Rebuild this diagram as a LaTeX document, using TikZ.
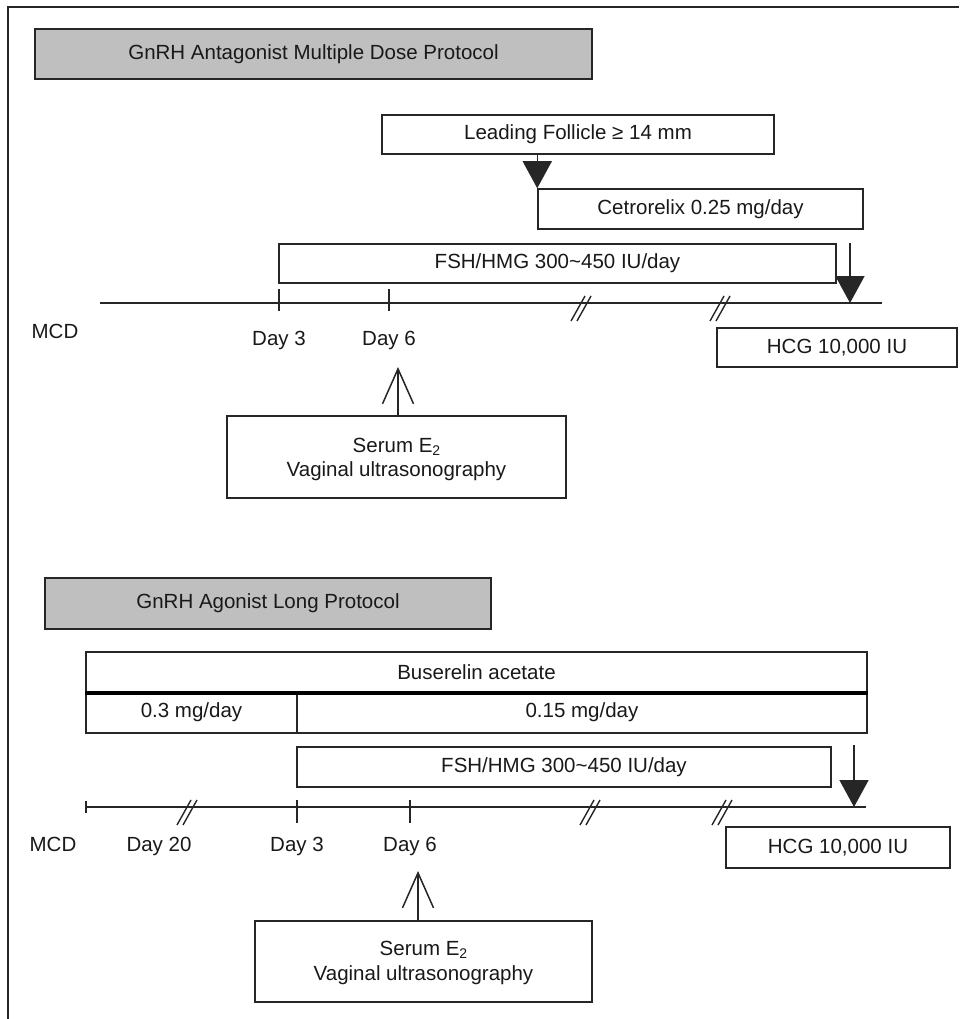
\documentclass[tikz,border=0pt]{standalone}
\usepackage{fontspec}
\setmainfont{Liberation Sans}
\usetikzlibrary{arrows.meta}
\newcommand{\subtwo}{\raisebox{-0.32ex}{\fontsize{14}{14}\selectfont 2}}
\begin{document}
\begin{tikzpicture}[x=1pt,y=-1pt,
  every node/.style={font=\fontsize{20.5}{24}\selectfont, text=black!90},
  box/.style={draw=black!85, line width=1.5pt, rectangle, inner sep=0pt, align=center},
  hdr/.style={box, fill=gray!50},
  lbl/.style={inner sep=0pt, text height=15pt, text depth=4pt},
  axis/.style={line width=1.8pt, draw=black!85},
  tickmark/.style={line width=1.5pt, draw=black!85},
  brkline/.style={line width=1.4pt, draw=black!85},
  tri/.style={line width=1.5pt, draw=black!85, fill=black!90, -{Triangle[length=27pt,width=29pt]}},
  barb/.style={line width=1.5pt, draw=black!85, -{Straight Barb[length=35pt,width=31pt]}}
]
\useasboundingbox (0,0) rectangle (959,1019);
\fill[white] (0,0) rectangle (959,1019);
\newcommand{\brkmark}[2]{%
  \draw[brkline] (#1-10,#2+18) -- (#1+4,#2-7);
  \draw[brkline] (#1-4,#2+18) -- (#1+10,#2-7);}
% outer frame
\draw[line width=1.8pt, draw=black!85] (8,1019) -- (8,7) -- (959,7);

% ===== Antagonist protocol =====
\node[hdr, minimum width=557pt, minimum height=50pt] (hdrA) at (313.5,54) {GnRH Antagonist Multiple Dose Protocol};
\node[box, minimum width=392pt, minimum height=39pt] (lead) at (578,134.5) {Leading Follicle ≥ 14 mm};
\node[box, minimum width=325pt, minimum height=40pt] (cet) at (700.5,209) {Cetrorelix 0.25 mg/day};
\node[box, minimum width=557pt, minimum height=39pt] (fshA) at (557.5,263.5) {FSH/HMG 300\textasciitilde 450 IU/day};
\node[box, minimum width=240pt, minimum height=39pt] (hcgA) at (837,347.5) {HCG 10,000 IU};
\node[box, minimum width=339pt, minimum height=82pt] (serA) at (396.5,457) {};
\node[lbl] (serA1) at (396.5,447) {Serum E\subtwo};
\node[lbl] (serA2) at (396.5,471) {Vaginal ultrasonography};

\coordinate (axA1) at (100,303);
\coordinate (axA2) at (882,303);
\draw[axis] (axA1) -- (axA2);
\draw[tickmark] (279,289) -- (279,311);
\draw[tickmark] (389,289) -- (389,311);
\brkmark{581}{303}
\brkmark{720}{303}

\node[lbl] (mcdA) at (55,333) {MCD};
\node[lbl] (d3A) at (279,340) {Day 3};
\node[lbl] (d6A) at (389,340) {Day 6};

\draw[tri] (lead.south -| cet.west) -- (cet.north west);
\coordinate (hcgAtop) at (850,243);
\coordinate (hcgAtip) at (850,303);
\draw[tri] (hcgAtop) -- (hcgAtip);
\coordinate (upA) at (398,367);
\draw[barb] (serA.north -| upA) -- (upA);

% ===== Agonist long protocol =====
\node[hdr, minimum width=446pt, minimum height=51pt] (hdrB) at (268,603.5) {GnRH Agonist Long Protocol};
\node[box, minimum width=781pt, minimum height=40pt] (bus) at (476.5,672) {Buserelin acetate};
\node[box, minimum width=211pt, minimum height=41pt] (bus1) at (191.5,712.5) {0.3 mg/day};
\node[box, minimum width=570pt, minimum height=41pt] (bus2) at (582,712.5) {0.15 mg/day};
\draw[line width=4pt, draw=black] (bus.south west) -- (bus.south east);
\node[box, minimum width=534pt, minimum height=40pt] (fshB) at (564,767) {FSH/HMG 300\textasciitilde 450 IU/day};
\node[box, minimum width=224pt, minimum height=41pt] (hcgB) at (838,847.5) {HCG 10,000 IU};
\node[box, minimum width=337pt, minimum height=81pt] (serB) at (423.5,961.5) {};
\node[lbl] (serB1) at (423.5,950) {Serum E\subtwo};
\node[lbl] (serB2) at (423.5,975) {Vaginal ultrasonography};

\coordinate (axB1) at (86,807);
\coordinate (axB2) at (866,807);
\draw[axis] (axB1) -- (axB2);
\draw[tickmark] (86,801) -- (86,813);
\draw[tickmark] (297,800) -- (297,823);
\draw[tickmark] (410,800) -- (410,823);
\brkmark{187}{807}
\brkmark{590}{807}
\brkmark{722}{807}

\node[lbl] (mcdB) at (53,846) {MCD};
\node[lbl] (d20B) at (159,846) {Day 20};
\node[lbl] (d3B) at (297,846) {Day 3};
\node[lbl] (d6B) at (410,846) {Day 6};

\coordinate (hcgBtop) at (854,745);
\coordinate (hcgBtip) at (854,807);
\draw[tri] (hcgBtop) -- (hcgBtip);
\coordinate (upB) at (418,871);
\draw[barb] (serB.north -| upB) -- (upB);
\end{tikzpicture}
\end{document}
